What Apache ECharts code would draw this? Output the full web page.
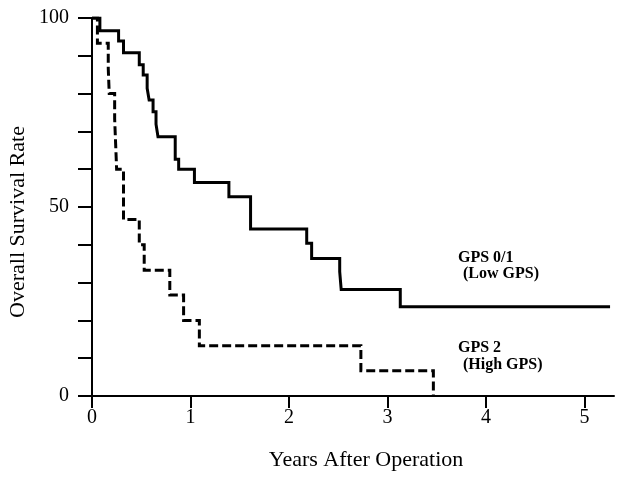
<!DOCTYPE html>
<html>
<head>
<meta charset="utf-8">
<script src="https://cdn.jsdelivr.net/npm/echarts@6/dist/echarts.min.js"></script>
<style>
html,body{margin:0;padding:0;background:#fff;}
#chart{width:620px;height:484px;}
</style>
</head>
<body>
<div id="chart"></div>
<script>
// Kaplan-Meier steps: [years, survival %] — survival drops to the value at that time
var lowGPS = [[0,100],[0.08,96.6],[0.27,93.9],[0.32,90.8],[0.48,87.6],[0.52,84.9],[0.56,81.4],[0.58,78.3],[0.62,75.2],[0.65,71.9],[0.67,68.6],[0.845,62.6],[0.88,60.0],[1.04,56.5],[1.39,52.7],[1.61,44.2],[2.18,40.4],[2.23,36.4],[2.515,32.9],[2.53,28.2],[3.13,23.6],[5.26,23.6]];
var highGPS = [[0,100],[0.055,93.3],[0.165,86.7],[0.175,80],[0.23,73.3],[0.24,66.7],[0.25,60],[0.32,46.7],[0.48,40],[0.53,33.3],[0.79,26.7],[0.93,20],[1.09,13.3],[2.73,6.7],[3.466,0]];
var xTicks = [0,1,2,3,4,5];
var yLabels = [0,50,100];
var seriesNames = ['GPS 0/1', 'GPS 2'];
var seriesNotes = ['(Low GPS)', '(High GPS)'];
var xTitle = 'Years After Operation';
var yTitle = 'Overall Survival Rate';

var serif = '"Liberation Serif", "Times New Roman", serif';
var chart = echarts.init(document.getElementById('chart'), null, {renderer:'canvas'});
chart.setOption({
  animation:false,
  backgroundColor:'#fff',
  grid:{left:92, right:6, top:18, bottom:88},
  xAxis:{
    type:'value', min:0, max:5.3,
    axisLine:{show:true, onZero:false, lineStyle:{color:'#000', width:2}},
    axisTick:{show:true, length:12, lineStyle:{color:'#000', width:2}, customValues:xTicks},
    axisLabel:{color:'#000', fontFamily:serif, fontSize:20, margin:12, customValues:xTicks},
    splitLine:{show:false}
  },
  yAxis:{
    type:'value', min:0, max:100, interval:10,
    axisLine:{show:true, lineStyle:{color:'#000', width:2}},
    axisTick:{show:true, length:14, lineStyle:{color:'#000', width:2}},
    axisLabel:{color:'#000', fontFamily:serif, fontSize:20, margin:23,
      formatter:function(v){ return yLabels.indexOf(v) >= 0 ? String(v) : ''; }},
    splitLine:{show:false}
  },
  graphic:[
    {type:'text', left:null, x:18, y:222, rotation:Math.PI/2,
      style:{text:yTitle, fill:'#000', font:'22px ' + serif, align:'center', verticalAlign:'middle'}},
    {type:'text', x:366, y:460,
      style:{text:xTitle, fill:'#000', font:'22px ' + serif, align:'center', verticalAlign:'middle'}},
    {type:'text', x:458, y:258,
      style:{text:seriesNames[0], fill:'#000', font:'bold 16px ' + serif, align:'left', verticalAlign:'middle'}},
    {type:'text', x:463, y:274,
      style:{text:seriesNotes[0], fill:'#000', font:'bold 16px ' + serif, align:'left', verticalAlign:'middle'}},
    {type:'text', x:458, y:348,
      style:{text:seriesNames[1], fill:'#000', font:'bold 16px ' + serif, align:'left', verticalAlign:'middle'}},
    {type:'text', x:463, y:365,
      style:{text:seriesNotes[1], fill:'#000', font:'bold 16px ' + serif, align:'left', verticalAlign:'middle'}}
  ],
  series:[
    {name:seriesNames[0], type:'line', step:'end', data:lowGPS, symbol:'none',
      lineStyle:{color:'#000', width:3, type:'solid', cap:'butt', join:'miter'}},
    {name:seriesNames[1], type:'line', step:'end', data:highGPS, symbol:'none',
      lineStyle:{color:'#000', width:3, type:[9,4], cap:'butt', join:'miter'}}
  ]
});
</script>
</body>
</html>
